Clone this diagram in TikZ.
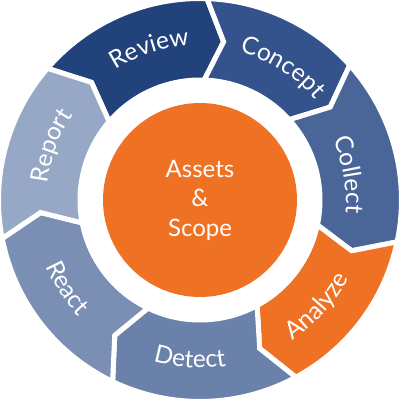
\documentclass[tikz,border=0pt]{standalone}
\usepackage{fontspec}
\setmainfont{Lato}
\usetikzlibrary{decorations.text}
\definecolor{cReview}{HTML}{22427C}
\definecolor{cConcept}{HTML}{34538C}
\definecolor{cCollect}{HTML}{4A6598}
\definecolor{cAnalyze}{HTML}{EF7123}
\definecolor{cDetect}{HTML}{6A81AA}
\definecolor{cReact}{HTML}{7B8FB5}
\definecolor{cReport}{HTML}{97A8C6}
\definecolor{cHub}{HTML}{EF7123}
\newcommand{\lblfont}{\fontsize{24.5}{29}\selectfont\color{white}}
\begin{document}
\begin{tikzpicture}[x=1pt,y=1pt,
  segshape/.style={draw=white, line width=5pt, line join=miter},
  lbltext/.style={decorate, decoration={text along path, text align=center, text={|\lblfont|#1}}}]
\useasboundingbox (-200,-210) rectangle (200,200);
% segments: start angle / end angle / colour (math angles, clockwise flow)
\foreach \s/\e/\c in {139.2/88/cReview, 88/42/cConcept, 42/-12/cCollect, -12/-61.6/cAnalyze, -61.6/-115.7/cDetect, -115.7/-169/cReact, 191/139.2/cReport}{
  \fill[\c, segshape] (\s:201.5) arc[start angle=\s, end angle=\e, radius=201.5]
     -- ({\e-6.5}:160) -- (\e:120) arc[start angle=\e, end angle=\s, radius=120]
     -- ({\s-6.5}:160) -- cycle;
}
\node[circle, fill=cHub, minimum size=194pt, inner sep=0pt] (hub) at (0,0) {};
\node[text=white, align=center, font=\fontsize{24}{29.5}\selectfont] (core) at (hub.center) {Assets\\\&\\Scope};
% labels, clockwise arcs (tops outward)
\path[lbltext=Review] (153.5:155) arc[start angle=153.5, end angle=63.5, radius=155];
\path[lbltext=Concept] (103:153) arc[start angle=103, end angle=13, radius=153];
\path[lbltext=Collect] (54.7:146) arc[start angle=54.7, end angle=-35.3, radius=146];
\path[lbltext=Report] (205:153) arc[start angle=205, end angle=115, radius=153];
% labels, counter-clockwise arcs (tops inward)
\path[lbltext=Analyze] (-87.2:168) arc[start angle=-87.2, end angle=2.8, radius=168];
\path[lbltext=Detect] (-138.6:168) arc[start angle=-138.6, end angle=-48.6, radius=168];
\path[lbltext=React] (-191.5:168) arc[start angle=-191.5, end angle=-101.5, radius=168];
\end{tikzpicture}
\end{document}
